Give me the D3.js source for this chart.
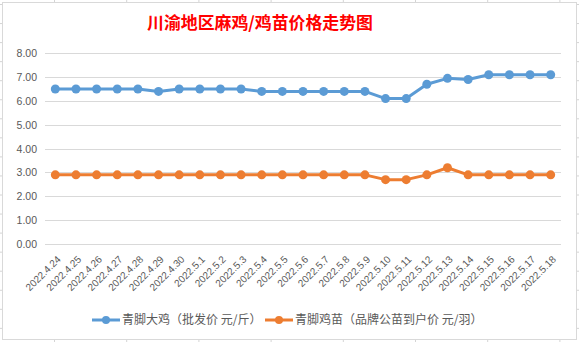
<!DOCTYPE html>
<html><head><meta charset="utf-8">
<script src="https://cdn.jsdelivr.net/npm/d3@7/dist/d3.min.js"></script>
<style>body{margin:0;background:#fff;}svg{display:block;}</style>
</head><body>
<svg id="c" width="579" height="342"></svg>
<script>
const categories = ["2022.4.24","2022.4.25","2022.4.26","2022.4.27","2022.4.28","2022.4.29","2022.4.30","2022.5.1","2022.5.2","2022.5.3","2022.5.4","2022.5.5","2022.5.6","2022.5.7","2022.5.8","2022.5.9","2022.5.10","2022.5.11","2022.5.12","2022.5.13","2022.5.14","2022.5.15","2022.5.16","2022.5.17","2022.5.18"];
const chickenPrice = [6.5,6.5,6.5,6.5,6.5,6.4,6.5,6.5,6.5,6.5,6.4,6.4,6.4,6.4,6.4,6.4,6.1,6.1,6.7,6.95,6.9,7.1,7.1,7.1,7.1];
const chickPrice = [2.9,2.9,2.9,2.9,2.9,2.9,2.9,2.9,2.9,2.9,2.9,2.9,2.9,2.9,2.9,2.9,2.7,2.7,2.9,3.2,2.9,2.9,2.9,2.9,2.9];
const yTicks = [0,1,2,3,4,5,6,7,8];
const seriesNames = ["青脚大鸡（批发价 元/斤）","青脚鸡苗（品牌公苗到户价 元/羽）"];
const title = "川渝地区麻鸡/鸡苗价格走势图";
const colors = ["#5B9BD5","#ED7D31"];

const svg = d3.select("#c");
const W = 579, H = 342;
const txt = "#595959";

// spreadsheet grid behind chart
const sheet = svg.append("g").attr("stroke","#D4D4D4").attr("stroke-width",1);
d3.range(54.5, W, 72.2).forEach(x => sheet.append("line").attr("x1",x).attr("x2",x).attr("y1",0).attr("y2",H));
d3.range(4.5, H, 19.05).forEach(y => sheet.append("line").attr("x1",0).attr("x2",W).attr("y1",y).attr("y2",y));

// chart box
svg.append("rect").attr("x",2.5).attr("y",2.5).attr("width",574).attr("height",337)
  .attr("fill","#fff").attr("stroke","#D9D9D9").attr("stroke-width",1);

const x = d3.scaleBand().domain(categories).range([45, 561]);
const y = d3.scaleLinear().domain([0,8]).range([244, 53.3]);

// title
svg.append("text").attr("x",147).attr("y",29).attr("text-anchor","start")
  .attr("textLength",226).attr("lengthAdjust","spacingAndGlyphs")
  .attr("font-family","'Noto Sans CJK SC'").attr("font-weight","bold").attr("font-size",17)
  .attr("fill","#FF0000").text(title);

// gridlines
svg.append("g").selectAll("line").data(yTicks).join("line")
  .attr("x1",45).attr("x2",561)
  .attr("y1",d=>Math.round(y(d))+0.5).attr("y2",d=>Math.round(y(d))+0.5)
  .attr("stroke","#D9D9D9").attr("stroke-width",1);

// y axis labels
const yAxis = d3.axisLeft(y).tickValues(yTicks).tickFormat(d3.format(".2f")).tickSize(0).tickPadding(0);
const ya = svg.append("g").attr("transform","translate(37,0)").call(yAxis);
ya.select(".domain").remove();
ya.selectAll("text").attr("font-family","'Liberation Sans', Arial").attr("font-size",10.5).attr("fill",txt);

// x axis labels
const xAxis = d3.axisBottom(x).tickSize(0).tickPadding(0);
const xa = svg.append("g").attr("transform","translate(0,244)").call(xAxis);
xa.select(".domain").remove();
xa.selectAll("text")
  .attr("font-family","'Liberation Sans', Arial").attr("font-size",10).attr("fill",txt)
  .attr("text-anchor","end").attr("dy",0).attr("y",0)
  .attr("transform","translate(6,16) rotate(-45)");

// lines
const series = [chickenPrice, chickPrice];
const line = d3.line().x((d,i)=>x(categories[i])+x.bandwidth()/2).y(d=>y(d));
series.forEach((s,k)=>{
  svg.append("path").datum(s).attr("d",line).attr("fill","none")
    .attr("stroke",colors[k]).attr("stroke-width",3).attr("stroke-linejoin","round").attr("stroke-linecap","round");
  svg.append("g").selectAll("circle").data(s).join("circle")
    .attr("cx",(d,i)=>x(categories[i])+x.bandwidth()/2).attr("cy",d=>y(d)).attr("r",4.5)
    .attr("fill",colors[k]);
});

// legend
const legendX = [92, 265];
seriesNames.forEach((n,k)=>{
  const g = svg.append("g").attr("transform",`translate(${legendX[k]},320)`);
  g.append("line").attr("x1",0).attr("x2",28).attr("y1",0).attr("y2",0).attr("stroke",colors[k]).attr("stroke-width",3);
  g.append("circle").attr("cx",14).attr("cy",0).attr("r",4).attr("fill",colors[k]);
  g.append("text").attr("x",30).attr("y",0).attr("dy","0.35em")
    .attr("font-family","'Noto Sans CJK SC'").attr("font-size",12).attr("fill",txt).text(n);
});
</script>
</body></html>
